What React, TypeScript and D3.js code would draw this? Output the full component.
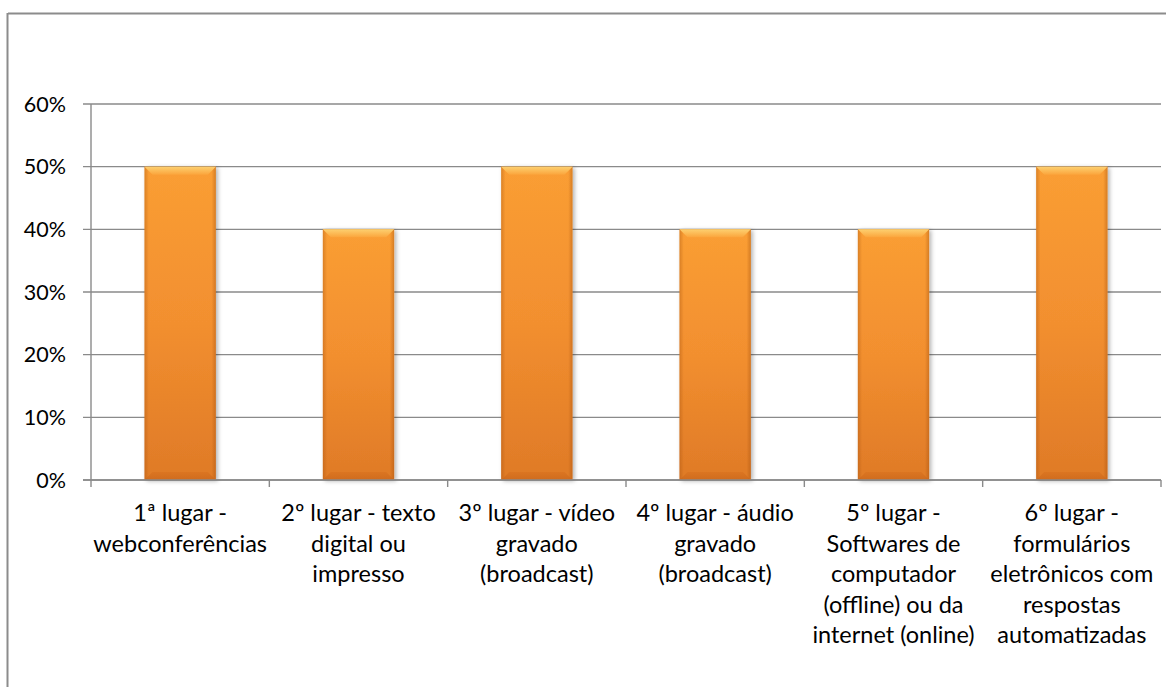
import React from "react";
import * as d3 from "d3";

// Ranking of preferred media, share of respondents per position
const categories: string[][] = [
  ["1ª lugar -", "webconferências"],
  ["2º lugar - texto", "digital ou", "impresso"],
  ["3º lugar - vídeo", "gravado", "(broadcast)"],
  ["4º lugar - áudio", "gravado", "(broadcast)"],
  ["5º lugar -", "Softwares de", "computador", "(offline) ou da", "internet (online)"],
  ["6º lugar -", "formulários", "eletrônicos com", "respostas", "automatizadas"],
];
const values: number[] = [0.5, 0.4, 0.5, 0.4, 0.4, 0.5];
const yTicks: number[] = [0, 0.1, 0.2, 0.3, 0.4, 0.5, 0.6];

const W = 1166;
const H = 687;
const plot = { left: 91, right: 1161, top: 104, bottom: 480 };
const FONT = "Lato, 'Open Sans', sans-serif";
const GRID = "#8a8a8a";

export default function App() {
  const x = d3
    .scaleBand<number>()
    .domain(d3.range(categories.length))
    .range([plot.left, plot.right])
    .paddingInner(0.6)
    .paddingOuter(0.3);
  const y = d3.scaleLinear().domain([0, 0.6]).range([plot.bottom, plot.top]);
  const fmt = d3.format(".0%");
  const step = x.step();
  const bevel = 8;

  return (
    <svg
      width={W}
      height={H}
      style={{ position: "absolute", left: 0, top: 0, background: "#fff" }}
      fontFamily={FONT}
    >
      <defs>
        <linearGradient id="barFill" x1="0" y1="0" x2="0" y2="1">
          <stop offset="0" stopColor="#fa9e34" />
          <stop offset="0.5" stopColor="#f28f2f" />
          <stop offset="1" stopColor="#df7a27" />
        </linearGradient>
        <linearGradient id="sideShade" x1="0" y1="0" x2="1" y2="0">
          <stop offset="0" stopColor="#a04d0c" stopOpacity="0.35" />
          <stop offset="0.06" stopColor="#a04d0c" stopOpacity="0" />
          <stop offset="0.94" stopColor="#a04d0c" stopOpacity="0" />
          <stop offset="1" stopColor="#a04d0c" stopOpacity="0.4" />
        </linearGradient>
        <linearGradient id="topBevel" x1="0" y1="0" x2="0" y2="1">
          <stop offset="0" stopColor="#fdd070" />
          <stop offset="1" stopColor="#fba53c" />
        </linearGradient>
        <linearGradient id="bottomBevel" x1="0" y1="0" x2="0" y2="1">
          <stop offset="0" stopColor="#d9721f" />
          <stop offset="1" stopColor="#c9661a" />
        </linearGradient>
        <filter id="barShadow" x="-20%" y="-20%" width="140%" height="140%">
          <feDropShadow dx="2" dy="1" stdDeviation="2" floodColor="#000" floodOpacity="0.3" />
        </filter>
      </defs>

      {/* chart frame */}
      <line x1={8} y1={13.5} x2={W} y2={13.5} stroke="#8c8c8c" strokeWidth={2} />
      <line x1={7.5} y1={13} x2={7.5} y2={H} stroke="#8c8c8c" strokeWidth={2} />

      {/* horizontal gridlines and y tick marks */}
      {yTicks.map((t) => (
        <g key={t}>
          <line x1={plot.left - 8} x2={plot.right} y1={y(t)} y2={y(t)} stroke={GRID} strokeWidth={1.4} />
          <text
            x={66}
            y={y(t)}
            dy="0.36em"
            textAnchor="end"
            fontSize={21.5}
            fill="#000"
          >
            {fmt(t)}
          </text>
        </g>
      ))}

      {/* y axis */}
      <line x1={plot.left} x2={plot.left} y1={plot.top} y2={plot.bottom} stroke={GRID} strokeWidth={1.4} />

      {/* category tick marks */}
      {d3.range(categories.length + 1).map((i) => {
        const xx = plot.left + i * step;
        return (
          <line key={i} x1={xx} x2={xx} y1={plot.bottom} y2={plot.bottom + 7} stroke={GRID} strokeWidth={1.4} />
        );
      })}

      {/* bars */}
      {values.map((v, i) => {
        const x0 = x(i)!;
        const bw = x.bandwidth();
        const x1 = x0 + bw;
        const y0 = y(v);
        const y1 = y(0);
        return (
          <g key={i}>
            <rect x={x0} y={y0} width={bw} height={y1 - y0} fill="url(#barFill)" filter="url(#barShadow)" />
            <rect x={x0} y={y0} width={bw} height={y1 - y0} fill="url(#sideShade)" />
            <polygon
              points={`${x0},${y0} ${x1},${y0} ${x1 - bevel},${y0 + bevel} ${x0 + bevel},${y0 + bevel}`}
              fill="url(#topBevel)"
            />
            <polygon
              points={`${x0},${y1} ${x1},${y1} ${x1 - bevel},${y1 - bevel} ${x0 + bevel},${y1 - bevel}`}
              fill="url(#bottomBevel)"
              opacity={0.7}
            />
          </g>
        );
      })}

      {/* x axis line drawn over bar bases */}
      <line x1={plot.left - 8} x2={plot.right} y1={plot.bottom} y2={plot.bottom} stroke={GRID} strokeWidth={1.4} />

      {/* category labels */}
      {categories.map((lines, i) => (
        <text
          key={i}
          x={x(i)! + x.bandwidth() / 2}
          y={513}
          textAnchor="middle"
          fontSize={23.5}
          fill="#000"
        >
          {lines.map((ln, j) => (
            <tspan key={j} x={x(i)! + x.bandwidth() / 2} y={513 + j * 30.5} dy="0.36em">
              {ln}
            </tspan>
          ))}
        </text>
      ))}
    </svg>
  );
}
